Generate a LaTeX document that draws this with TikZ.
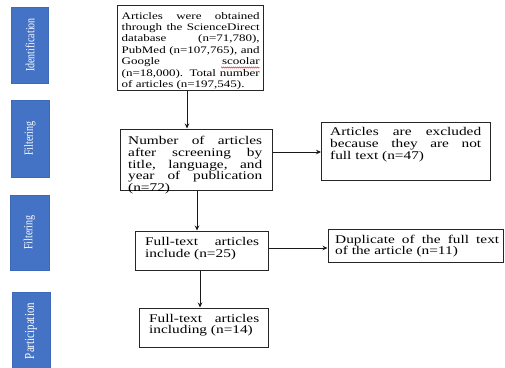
\documentclass[tikz,border=0pt]{standalone}
\usepackage{fontspec}
\setmainfont{Liberation Serif}
\newfontfamily\boxfont{Liberation Serif}[FakeStretch=1.3]
\usetikzlibrary{arrows.meta,decorations.pathmorphing}
\definecolor{barblue}{HTML}{4472C4}
\definecolor{baredge}{HTML}{3E69B8}
\tikzset{
  bar/.style={fill=barblue, draw=baredge, line width=0.6pt},
  bartext/.style={rotate=90, text=white, inner sep=0pt, font=\fontsize{10}{11}\selectfont},
  box/.style={draw=black!85, line width=1pt, inner sep=0pt},
  boxtext/.style={inner sep=0pt, anchor=base west, align=justify, font=\boxfont\fontsize{11.8}{11.8}\selectfont},
  arr/.style={-{Stealth[length=5pt,width=4.5pt]}, line width=0.8pt, draw=black!90},
  spell/.style={red, line width=0.4pt, decorate, decoration={snake, amplitude=0.6pt, segment length=2pt}},
}
\begin{document}
\begin{tikzpicture}[x=1pt,y=-1pt]
\useasboundingbox (0,0) rectangle (505,367);
% side bars
\node[bar, minimum width=37pt, minimum height=76pt] (b1) at (30,45) {};
\node[bartext] (l1) at (b1.center) {\scalebox{1}[1.25]{Identification}};
\node[bar, minimum width=38pt, minimum height=77pt] (b2) at (30,138.5) {};
\node[bartext] (l2) at (b2.center) {\scalebox{1}[1.25]{Filtering}};
\node[bar, minimum width=39pt, minimum height=75pt] (b3) at (29.5,232.5) {};
\node[bartext] (l3) at (b3.center) {\scalebox{1}[1.25]{Filtering}};
\node[bar, minimum width=38pt, minimum height=78pt] (b4) at (31,331) {};
\node[bartext, font=\fontsize{11}{12}\selectfont] (l4) at (b4.center) {\scalebox{1}[1.25]{Participation}};
% boxes
\node[box, minimum width=146pt, minimum height=85pt] (n1) at (190,47.5) {};
\node[boxtext, text width=138pt, font=\boxfont\fontsize{10}{11.4}\selectfont] (t1) at (121.5,19)
  {Articles were obtained\linebreak through the ScienceDirect\linebreak database (n=71,780),\linebreak PubMed (n=107,765), and\linebreak Google scoolar\linebreak (n=18,000). Total number\linebreak of articles (n=197,545).};
\coordinate (w1) at (221,67.5);
\coordinate (w2) at (259.5,67.5);
\draw[spell] (w1) -- (w2);
\node[box, minimum width=152pt, minimum height=61pt] (n2) at (196,159.5) {};
\node[boxtext, text width=134pt] (t2) at (128,144.5)
  {Number of articles\linebreak after screening by\linebreak title, language, and\linebreak year of publication\linebreak (n=72)};
\node[box, minimum width=169pt, minimum height=58pt] (n3) at (406,151) {};
\node[boxtext, text width=151pt] (t3) at (330,135.5)
  {Articles are excluded\linebreak because they are not\linebreak full text (n=47)};
\node[box, minimum width=133pt, minimum height=39pt] (n4) at (201.5,250.5) {};
\node[boxtext, text width=114pt] (t4) at (145,245.5)
  {Full-text articles\linebreak include (n=25)};
\node[box, minimum width=175pt, minimum height=33pt] (n5) at (415.5,245.5) {};
\node[boxtext, text width=164pt] (t5) at (335,243)
  {Duplicate of the full text\linebreak of the article (n=11)};
\node[box, minimum width=129pt, minimum height=39pt] (n6) at (203.5,327.5) {};
\node[boxtext, text width=110pt] (t6) at (149,322)
  {Full-text articles\linebreak including (n=14)};
% arrows
\draw[arr] (n1.south -| 187,0) -- (n2.north -| 187,0);
\draw[arr] (n2.east |- 0,152) -- (n3.west |- 0,152);
\draw[arr] (n2.south -| 197,0) -- (n4.north -| 197,0);
\draw[arr] (n4.east |- 0,248) -- (n5.west |- 0,248);
\draw[arr] (n4.south -| 200,0) -- (n6.north -| 200,0);
\end{tikzpicture}
\end{document}
